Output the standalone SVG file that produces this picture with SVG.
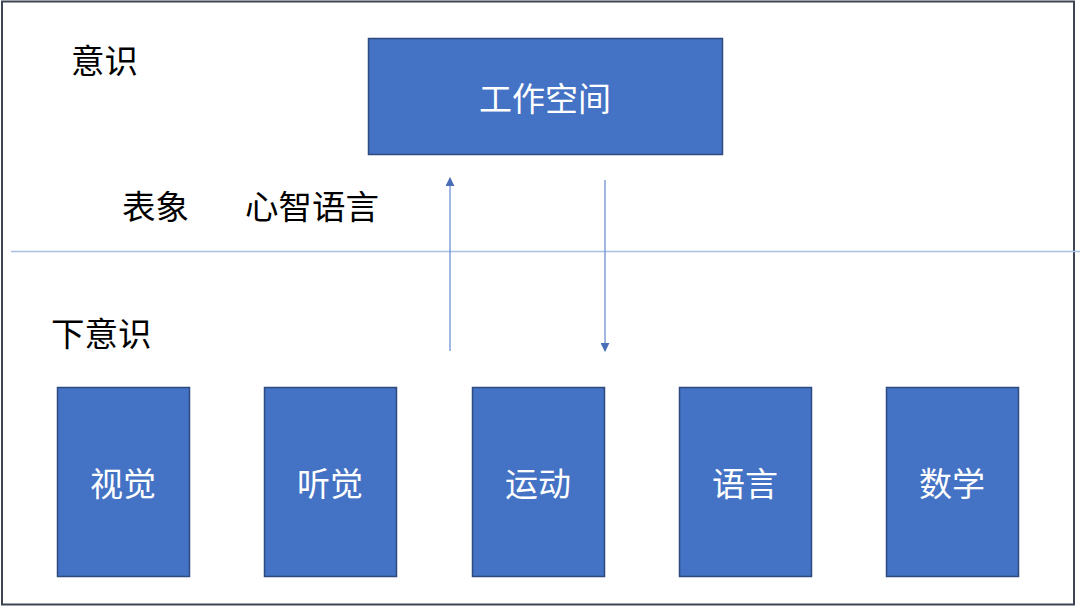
<svg xmlns="http://www.w3.org/2000/svg" width="1080" height="608" viewBox="0 0 1080 608">
<style>
.box{fill:#4472C4;stroke:#2F4A7F;stroke-width:1.5}
.lbl{font-family:"Noto Sans CJK SC","Noto Sans",sans-serif;font-size:33px;fill:#ffffff;text-anchor:middle;dominant-baseline:central}
.txt{font-family:"Noto Sans CJK SC","Noto Sans",sans-serif;font-size:33.5px;fill:#000000}
.conn{stroke:#6F8FD0;stroke-width:1.3;fill:none}
</style>
<defs>
<marker id="ah" viewBox="0 0 10 10" refX="9" refY="5" markerWidth="9" markerHeight="9" markerUnits="userSpaceOnUse" orient="auto">
<path d="M0,0 L10,5 L0,10 z" fill="#4A6DB8"/>
</marker>
</defs>
<rect x="0" y="0" width="1080" height="608" fill="#ffffff"/>
<rect x="2" y="1.5" width="1072" height="603" fill="none" stroke="#3D4555" stroke-width="2"/>
<line x1="11" y1="251.5" x2="1080" y2="251.5" stroke="#A9C0E6" stroke-width="1.5"/>
<text class="txt" x="71" y="73">意识</text>
<text class="txt" x="122" y="219">表象</text>
<text class="txt" x="245" y="219">心智语言</text>
<text class="txt" x="51" y="346">下意识</text>
<g id="connectors">
<line class="conn" x1="450" y1="351" x2="450" y2="178" marker-end="url(#ah)"/>
<line class="conn" x1="605" y1="180" x2="605" y2="351" marker-end="url(#ah)"/>
</g>
<g id="workspace"><rect class="box" x="368.5" y="38.5" width="354" height="116"/><text class="lbl" x="545" y="97">工作空间</text></g>
<g id="vision"><rect class="box" x="57.5" y="387.5" width="132" height="189"/><text class="lbl" x="123" y="482">视觉</text></g>
<g id="hearing"><rect class="box" x="264.5" y="387.5" width="132" height="189"/><text class="lbl" x="330" y="482">听觉</text></g>
<g id="motor"><rect class="box" x="472.5" y="387.5" width="132" height="189"/><text class="lbl" x="538" y="482">运动</text></g>
<g id="language"><rect class="box" x="679.5" y="387.5" width="132" height="189"/><text class="lbl" x="745" y="482">语言</text></g>
<g id="math"><rect class="box" x="886.5" y="387.5" width="132" height="189"/><text class="lbl" x="952" y="482">数学</text></g>
</svg>
